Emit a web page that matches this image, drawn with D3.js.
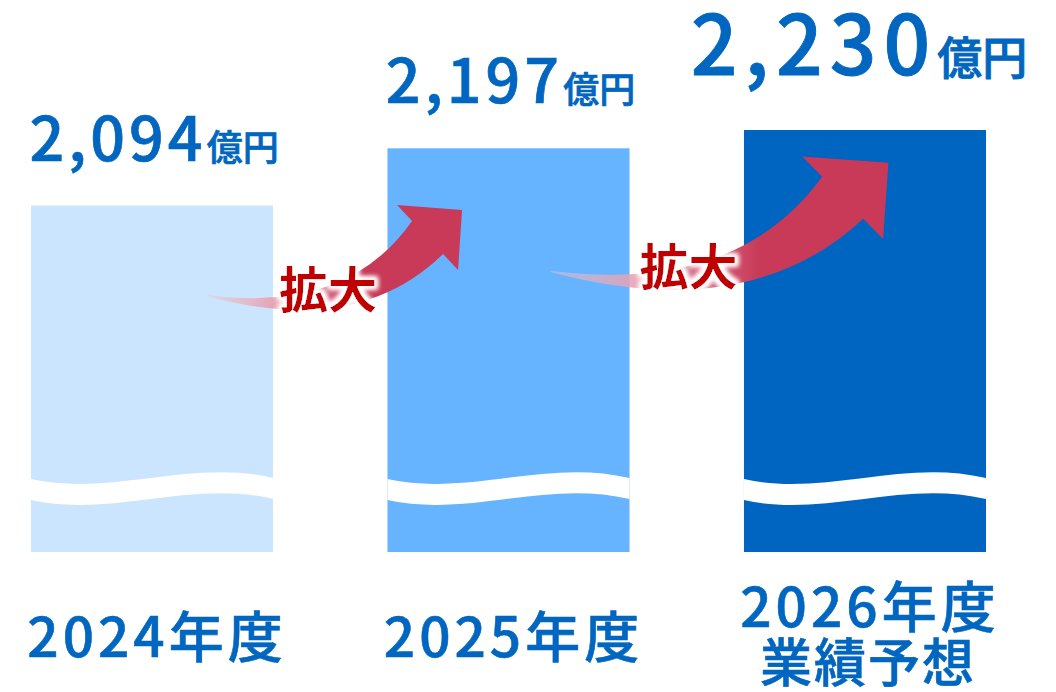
<!DOCTYPE html>
<html><head><meta charset="utf-8">
<script src="https://cdn.jsdelivr.net/npm/d3@7"></script>
<style>
html,body{margin:0;padding:0;background:#fff;}
svg{display:block;}
text{font-family:"Noto Sans CJK JP","Noto Sans",sans-serif;}
</style></head>
<body>
<svg id="chart" width="1056" height="692"></svg>
<script>
// ---- data ----
const categories = ["2024年度", "2025年度", "2026年度"];
const subLabels = ["", "", "業績予想"];
const values = [2094, 2197, 2230];
const unit = "億円";
const growthLabel = "拡大";

// ---- layout ----
const svg = d3.select("#chart");
const barColors = ["#cce5fe", "#66b3ff", "#0064c1"];
const textBlue = "#0066bf";

const x = d3.scaleBand().domain(categories).range([31, 986]).paddingInner(0.321).paddingOuter(0);
const y = d3.scaleLinear().domain([1470, 2230]).range([552, 130]);
const bw = x.bandwidth();

const defs = svg.append("defs");
const grad = defs.append("linearGradient").attr("id", "arrowGrad")
  .attr("x1", "0").attr("y1", "0").attr("x2", "1").attr("y2", "0");
[[0, "#f0c0cb", 0.45], [0.25, "#e6a0b1", 0.9], [0.45, "#d66582", 1], [0.62, "#c83a57", 1], [1, "#c83a57", 1]]
  .forEach(([o, c, op]) => grad.append("stop").attr("offset", o).attr("stop-color", c).attr("stop-opacity", op));
const glow = defs.append("filter").attr("id", "glow").attr("x", "-30%").attr("y", "-30%").attr("width", "160%").attr("height", "160%");
glow.append("feMorphology").attr("in", "SourceAlpha").attr("operator", "dilate").attr("radius", 3).attr("result", "d");
glow.append("feGaussianBlur").attr("in", "d").attr("stdDeviation", 2.5).attr("result", "b");
glow.append("feFlood").attr("flood-color", "#ffffff").attr("result", "f");
glow.append("feComposite").attr("in", "f").attr("in2", "b").attr("operator", "in").attr("result", "g");
const gm = glow.append("feMerge");
gm.append("feMergeNode").attr("in", "g");
gm.append("feMergeNode").attr("in", "g");
gm.append("feMergeNode").attr("in", "SourceGraphic");

// bars
const bars = svg.append("g");
bars.selectAll("rect").data(values).join("rect")
  .attr("x", (d, i) => x(categories[i]))
  .attr("y", d => y(d))
  .attr("width", bw)
  .attr("height", d => y.range()[0] - y(d))
  .attr("fill", (d, i) => barColors[i]);

// wave break
const base = y.range()[0];
function wavePath(x0) {
  const top0 = base - 73, top1 = base - 74;
  const t = 21;
  return `M${x0},${top0} C${x0 + bw * 0.33},${base - 55} ${x0 + bw * 0.66},${base - 94} ${x0 + bw},${top1}` +
         ` L${x0 + bw},${top1 + t} C${x0 + bw * 0.66},${base - 94 + t} ${x0 + bw * 0.33},${base - 55 + t} ${x0},${top0 + t} Z`;
}
bars.selectAll("path.wave").data(values).join("path").attr("class", "wave")
  .attr("d", (d, i) => wavePath(x(categories[i])))
  .attr("fill", "#ffffff");

// growth arrows
const arrowShape = "M0,-1 Q140,18 205,-75 L190,-91 L255,-86 L251,-26 L236,-42 Q150,42 0,0 Z";
const arrows = [
  { tx: x(categories[0]) + bw - 66, ty: 296, sx: 1, sy: 1, lx: 121, ly: -10 },
  { tx: x(categories[1]) + bw - 79, ty: 272, sx: 1.325, sy: 1.27, lx: 138, ly: -9 }
];
const ag = svg.append("g");
arrows.forEach(a => {
  ag.append("path").attr("d", arrowShape)
    .attr("transform", `translate(${a.tx},${a.ty}) scale(${a.sx},${a.sy})`)
    .attr("fill", "url(#arrowGrad)");
  ag.append("text").attr("x", a.tx + a.lx).attr("y", a.ty + a.ly)
    .attr("text-anchor", "middle").attr("dominant-baseline", "central")
    .attr("font-size", 49).attr("font-weight", 700).attr("fill", "#c00000")
    .attr("filter", "url(#glow)")
    .text(growthLabel);
});

// value labels
const fmt = d3.format(",");
const vl = svg.append("g");
values.forEach((v, i) => {
  const big = i === values.length - 1;
  const t = vl.append("text")
    .attr("x", x(categories[i]) + bw / 2 + (big ? -6 : 2))
    .attr("y", y(v) - (big ? 55 : 45))
    .attr("text-anchor", "middle")
    .attr("fill", textBlue).attr("stroke", textBlue).attr("stroke-width", big ? 0.9 : 0.7)
    .attr("font-weight", 500);
  t.append("tspan").attr("font-size", big ? 82 : 61).attr("letter-spacing", big ? 7 : 4).text(fmt(v));
  t.append("tspan").attr("font-size", big ? 45 : 36).attr("dx", 0).text(unit);
});

// category labels
const cl = svg.append("g");
categories.forEach((c, i) => {
  const cx = x(c) + bw / 2 + 5;
  const t = cl.append("text").attr("x", cx).attr("text-anchor", "middle")
    .attr("fill", textBlue).attr("stroke", textBlue).attr("stroke-width", 0.6)
    .attr("font-weight", 500).attr("font-size", 55).attr("letter-spacing", 4);
  if (subLabels[i]) {
    t.attr("y", 627).text(c);
    cl.append("text").attr("x", cx - 2).attr("y", 682).attr("text-anchor", "middle")
      .attr("fill", textBlue).attr("stroke", textBlue).attr("stroke-width", 0.6)
      .attr("font-weight", 500).attr("font-size", 52).attr("letter-spacing", 2)
      .text(subLabels[i]);
  } else {
    t.attr("y", 657).text(c);
  }
});
</script>
</body></html>
